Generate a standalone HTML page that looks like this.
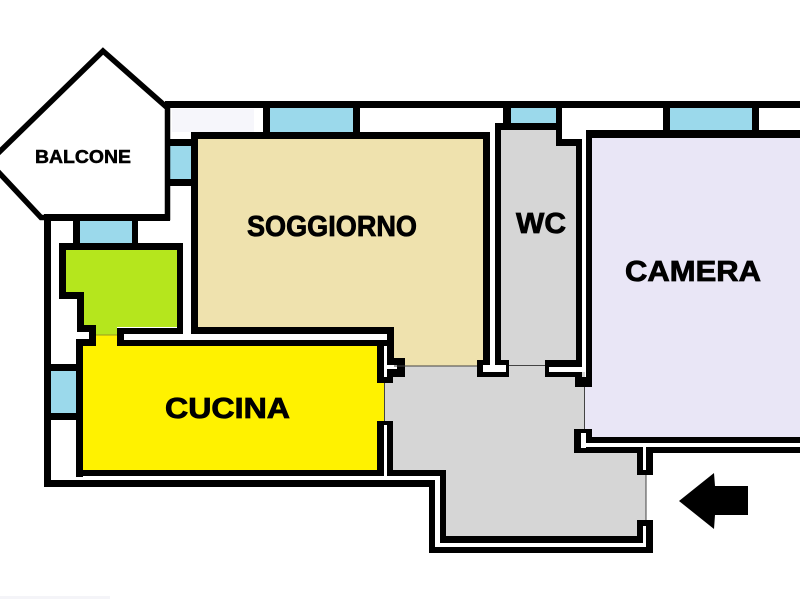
<!DOCTYPE html>
<html>
<head>
<meta charset="utf-8">
<style>
html,body{margin:0;padding:0;background:#fff;width:800px;height:600px;overflow:hidden}
svg{display:block}
text{font-family:"Liberation Sans",Arial,sans-serif;font-weight:bold;fill:#000;stroke:#000}
</style>
</head>
<body>
<svg width="800" height="600" viewBox="0 0 800 600" xmlns="http://www.w3.org/2000/svg" shape-rendering="crispEdges">
<rect width="800" height="600" fill="#fff"/>
<rect x="0" y="596" width="110" height="3" fill="#f4f4f8"/>
<rect x="172" y="109" width="82" height="23" fill="#f6f6fb"/>

<!-- room fills -->
<polygon points="198,139 483,139 483,366 394,366 394,327 198,327" fill="#efe2ae"/>
<polygon points="501,130 556,130 556,146 576,146 576,366 501,366" fill="#d6d6d6"/>
<polygon points="384,366 585,366 585,450 646,450 646,540 440,540 440,473 390,473 384,430" fill="#d6d6d6"/>
<polygon points="592,138 800,138 800,437 592,437 592,429 585,429 585,386 592,386" fill="#e9e6f6"/>
<polygon points="66,250 177,250 177,327 117,327 117,335 96,335 96,327 84,327 84,292 66,292" fill="#b5e61d"/>
<polygon points="83,346 96,346 96,335 117,335 117,346 378,346 378,383 384,383 384,421 378,421 378,470 83,470" fill="#fff200"/>

<!-- windows -->
<g fill="#9bd9eb">
<rect x="270" y="108" width="83" height="24"/>
<rect x="511" y="108" width="45" height="15"/>
<rect x="670" y="108" width="82" height="22"/>
<rect x="170" y="146" width="21" height="33"/>
<rect x="80" y="221" width="52" height="22"/>
<rect x="51" y="371" width="25" height="42"/>
</g>

<!-- balcony -->
<polygon points="103,51 167.5,108 167.5,217.5 41,217.5 -11,162" fill="#fff" stroke="#000" stroke-width="5.5" shape-rendering="auto"/>

<!-- walls -->
<g fill="#000">
<rect x="165" y="101" width="635" height="7"/>
<rect x="165" y="104" width="5" height="117"/>
<rect x="44" y="214" width="126" height="7"/>
<rect x="170" y="139" width="21" height="7"/>
<rect x="170" y="179" width="21" height="7"/>
<!-- top window dividers -->
<rect x="263" y="108" width="7" height="24"/>
<rect x="353" y="108" width="7" height="24"/>
<rect x="503" y="108" width="8" height="22"/>
<rect x="556" y="108" width="6" height="38"/>
<rect x="663" y="108" width="7" height="22"/>
<rect x="752" y="108" width="7" height="22"/>
<!-- soggiorno -->
<rect x="191" y="132" width="299" height="7"/>
<rect x="191" y="132" width="7" height="202"/>
<rect x="191" y="327" width="203" height="7"/>
<rect x="387" y="327" width="7" height="36"/>
<rect x="387" y="358" width="18" height="19"/>
<rect x="483" y="132" width="7" height="230"/>
<!-- wc -->
<rect x="495" y="123" width="67" height="7"/>
<rect x="495" y="123" width="6" height="240"/>
<rect x="477" y="360" width="32" height="17"/>
<rect x="556" y="139" width="26" height="7"/>
<rect x="576" y="139" width="6" height="225"/>
<rect x="545" y="360" width="37" height="17"/>
<!-- camera -->
<rect x="586" y="130" width="214" height="8"/>
<rect x="586" y="130" width="6" height="257"/>
<rect x="575" y="377" width="17" height="10"/>
<rect x="574" y="429" width="18" height="24"/>
<rect x="586" y="437" width="214" height="6"/>
<rect x="574" y="447" width="226" height="6"/>
<!-- entry -->
<rect x="637" y="447" width="16" height="28"/>
<rect x="637" y="520" width="16" height="20"/>
<rect x="646" y="520" width="7" height="33"/>
<rect x="637" y="520" width="6" height="23"/>
<rect x="440" y="536" width="203" height="7"/>
<rect x="440" y="470" width="6" height="73"/>
<rect x="429" y="547" width="224" height="6"/>
<rect x="429" y="480" width="6" height="73"/>
<!-- outer left -->
<rect x="44" y="214" width="7" height="273"/>
<rect x="44" y="480" width="391" height="7"/>
<rect x="51" y="364" width="25" height="7"/>
<rect x="51" y="413" width="25" height="7"/>
<!-- green room -->
<rect x="73" y="221" width="7" height="24"/>
<rect x="132" y="221" width="6" height="24"/>
<rect x="59" y="243" width="124" height="7"/>
<rect x="59" y="243" width="7" height="56"/>
<rect x="59" y="292" width="25" height="7"/>
<rect x="77" y="292" width="7" height="40"/>
<rect x="177" y="243" width="6" height="92"/>
<rect x="117" y="328" width="66" height="7"/>
<rect x="77" y="325" width="19" height="7"/>
<rect x="89" y="325" width="7" height="20"/>
<!-- cucina -->
<rect x="76" y="339" width="20" height="7"/>
<rect x="76" y="339" width="7" height="138"/>
<rect x="117" y="328" width="7" height="18"/>
<rect x="117" y="340" width="277" height="6"/>
<rect x="76" y="470" width="370" height="6"/>
<rect x="377" y="340" width="7" height="43"/>
<rect x="377" y="377" width="16" height="6"/>
<rect x="377" y="421" width="16" height="55"/>
</g>

<!-- white wall gaps -->
<g fill="#fff">
<rect x="384" y="346" width="3" height="31"/>
<rect x="384" y="365" width="13" height="4"/>
<rect x="483" y="365" width="23" height="7"/>
<rect x="490" y="139" width="5" height="233"/>
<rect x="549" y="367" width="33" height="5"/>
<rect x="582" y="146" width="4" height="226"/>
<rect x="581" y="433" width="5" height="15"/>
<rect x="581" y="443" width="219" height="4"/>
<rect x="643" y="447" width="3" height="23"/>
<rect x="643" y="526" width="3" height="17"/>
<rect x="435" y="476" width="5" height="71"/>
<rect x="393" y="476" width="47" height="4"/>
<rect x="384" y="425" width="3" height="55"/>
<rect x="77" y="332" width="12" height="7"/>
<rect x="124" y="334" width="263" height="6"/>
<rect x="435" y="543" width="211" height="4"/>
</g>

<!-- door lines -->
<g stroke="#444" stroke-width="1">
<line x1="394" y1="366" x2="477" y2="366"/>
<line x1="509" y1="365.5" x2="545" y2="365.5"/>
<line x1="384.5" y1="383" x2="384.5" y2="421"/>
<line x1="584.5" y1="387" x2="584.5" y2="429"/>
<line x1="646" y1="475" x2="646" y2="520"/>
<line x1="96" y1="335" x2="117" y2="335" stroke="#9a9a20"/>
</g>

<!-- arrow -->
<polygon points="679,501 714,473 715,486 748,486 748,515 715,515 714,529" fill="#000" shape-rendering="auto"/>

<!-- labels -->
<g shape-rendering="auto">
<text x="35" y="163" font-size="18" stroke-width="0.5" textLength="96" lengthAdjust="spacingAndGlyphs">BALCONE</text>
<text x="247" y="236" font-size="29" stroke-width="0.8" textLength="170" lengthAdjust="spacingAndGlyphs">SOGGIORNO</text>
<text x="516" y="233" font-size="29" stroke-width="0.8" textLength="50" lengthAdjust="spacingAndGlyphs">WC</text>
<text x="625" y="281" font-size="29" stroke-width="0.8" textLength="136" lengthAdjust="spacingAndGlyphs">CAMERA</text>
<text x="165" y="418" font-size="29" stroke-width="0.8" textLength="125" lengthAdjust="spacingAndGlyphs">CUCINA</text>
</g>
</svg>
</body>
</html>
